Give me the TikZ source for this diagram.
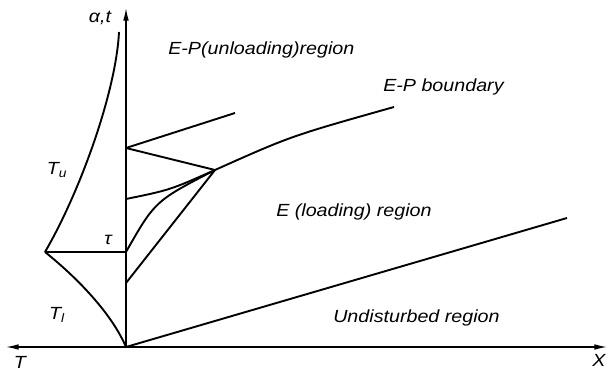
\documentclass[tikz,border=0pt]{standalone}
\usepackage{fontspec}
\setsansfont{Liberation Sans}[FakeStretch=1.12]
\usetikzlibrary{arrows.meta}
\begin{document}
\begin{tikzpicture}[x=0.025cm,y=-0.025cm,
  curve/.style={line width=1.35pt},
  axis/.style={line width=0.9pt},
  lbl/.style={font=\sffamily\itshape\fontsize{12.5}{14}\selectfont, inner sep=0pt},
  ]
\useasboundingbox (0,0) rectangle (608,373);
\coordinate (O) at (126,347);
\coordinate (Ytop) at (126,8);
\coordinate (Xl) at (6,347);
\coordinate (Xr) at (607,347);
\coordinate (P) at (45,252);
\coordinate (Tt) at (119,32);
\coordinate (A) at (126,148);
\coordinate (A2) at (235,113);
\coordinate (B) at (126,199);
\coordinate (C) at (126,252);
\coordinate (D) at (126,283);
\coordinate (J) at (215,170);
\coordinate (Bd) at (394,107);
\coordinate (L) at (567,218);

% axes
\draw[axis,{Latex[length=9pt,width=4pt]}-{Latex[length=9pt,width=4pt]}] (Xl) -- (Xr);
\draw[axis,-{Latex[length=9pt,width=4pt]}] (O) -- (Ytop);

% left curves
\draw[curve] (P) .. controls (80,192) and (116,92) .. (Tt);
\draw[curve] (P) .. controls (75,276) and (111,312) .. (O);
\draw[curve] (P) -- (C);

% fan
\draw[curve] (A) -- (A2);
\draw[curve] (A) -- (J);
\draw[curve] (B) .. controls (170,190) .. (J);
\draw[curve] (C) .. controls (155,201) .. (J);
\draw[curve] (D) -- (J);
\draw[curve] (J) .. controls (291,136) .. (Bd);
\draw[curve] (O) -- (L);

% labels
\node[lbl] (lalpha) at (100,18) {α,t};
\node[lbl] (lT) at (20,362) {T};
\node[lbl] (lX) at (599,360) {X};
\node[lbl] (lTu) at (57,170) {T\textsubscript{u}};
\node[lbl] (lTl) at (57,315) {T\textsubscript{l}};
\node[lbl] (ltau) at (108,240) {τ};
\node[lbl,anchor=west] (lunl) at (168,50) {E-P(unloading)region};
\node[lbl,anchor=west] (lbnd) at (383,87) {E-P boundary};
\node[lbl,anchor=west] (lload) at (276,212) {E (loading) region};
\node[lbl,anchor=west] (lund) at (333,318) {Undisturbed region};
\end{tikzpicture}
\end{document}
